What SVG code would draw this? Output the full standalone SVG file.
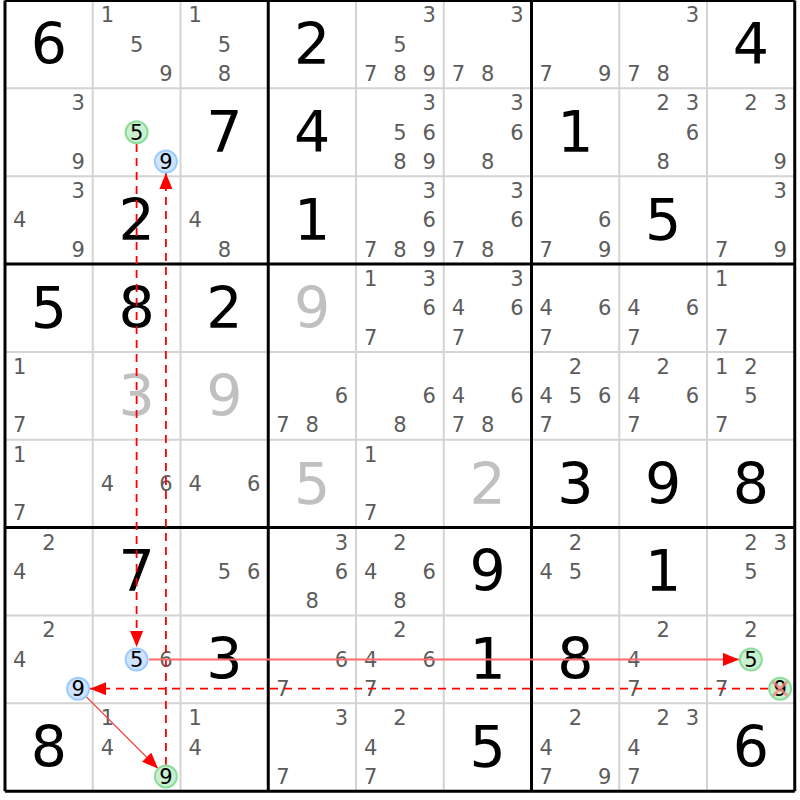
<svg xmlns="http://www.w3.org/2000/svg" width="800" height="800" viewBox="0 0 800 800">
<style>
.c{font-family:"DejaVu Sans",Verdana,sans-serif;font-size:21px;fill:#5c5c5c;text-anchor:middle}
.h{font-family:"DejaVu Sans",Verdana,sans-serif;font-size:21px;fill:#000;text-anchor:middle}
.b{font-family:"DejaVu Sans",Verdana,sans-serif;font-size:57px;fill:#000;text-anchor:middle}
.g{font-family:"DejaVu Sans",Verdana,sans-serif;font-size:57px;fill:#c0c0c0;text-anchor:middle}
.thin{stroke:#d4d4d4;stroke-width:2}
.thick{stroke:#000;stroke-width:3}
.cg{fill:#c9f0cf;stroke:#8ddc9c;stroke-width:2}
.cb{fill:#cfe5ff;stroke:#9ccbff;stroke-width:2}
.dash{stroke:#ff0000;stroke-width:1.8;stroke-dasharray:8,6;fill:none}
.sol{stroke:#ff6a6a;stroke-width:2;fill:none}
.dia{stroke:#f04a4a;stroke-width:1.3;fill:none}
</style>
<defs>
<marker id="ah" markerUnits="userSpaceOnUse" markerWidth="17" markerHeight="13" refX="16" refY="6.5" orient="auto"><path d="M0,0 L16,6.5 L0,13 z" fill="#ff0000"/></marker>
</defs>
<rect x="0" y="0" width="800" height="800" fill="#fff"/>
<g id="grid">
<path class="thin" d="M92.75,0.5V791.15M180.5,0.5V791.15M356,0.5V791.15M443.75,0.5V791.15M619.25,0.5V791.15M707,0.5V791.15M5,88.35H794.75M5,176.2H794.75M5,351.9H794.75M5,439.75H794.75M5,615.45H794.75M5,703.3H794.75"/>
<path class="thick" d="M5,0.5V791.15M268.25,0.5V791.15M531.5,0.5V791.15M794.75,0.5V791.15M5,0.5H794.75M5,264.05H794.75M5,527.6H794.75M5,791.15H794.75"/>
</g>
<g id="r0">
<g id="r0c0"><text class="b" x="48.9" y="64">6</text></g>
<g id="r0c1"><text class="c" x="107.4" y="22.4">1</text><text class="c" x="136.6" y="51.7">5</text><text class="c" x="165.9" y="81">9</text></g>
<g id="r0c2"><text class="c" x="195.1" y="22.4">1</text><text class="c" x="224.4" y="51.7">5</text><text class="c" x="224.4" y="81">8</text></g>
<g id="r0c3"><text class="b" x="312.1" y="64">2</text></g>
<g id="r0c4"><text class="c" x="429.1" y="22.4">3</text><text class="c" x="399.9" y="51.7">5</text><text class="c" x="370.6" y="81">7</text><text class="c" x="399.9" y="81">8</text><text class="c" x="429.1" y="81">9</text></g>
<g id="r0c5"><text class="c" x="516.9" y="22.4">3</text><text class="c" x="458.4" y="81">7</text><text class="c" x="487.6" y="81">8</text></g>
<g id="r0c6"><text class="c" x="546.1" y="81">7</text><text class="c" x="604.6" y="81">9</text></g>
<g id="r0c7"><text class="c" x="692.4" y="22.4">3</text><text class="c" x="633.9" y="81">7</text><text class="c" x="663.1" y="81">8</text></g>
<g id="r0c8"><text class="b" x="750.9" y="64">4</text></g>
</g>
<g id="r1">
<g id="r1c0"><text class="c" x="78.1" y="110.3">3</text><text class="c" x="78.1" y="168.9">9</text></g>
<g id="r1c2"><text class="b" x="224.4" y="152">7</text></g>
<g id="r1c3"><text class="b" x="312.1" y="152">4</text></g>
<g id="r1c4"><text class="c" x="429.1" y="110.3">3</text><text class="c" x="399.9" y="139.6">5</text><text class="c" x="429.1" y="139.6">6</text><text class="c" x="399.9" y="168.9">8</text><text class="c" x="429.1" y="168.9">9</text></g>
<g id="r1c5"><text class="c" x="516.9" y="110.3">3</text><text class="c" x="516.9" y="139.6">6</text><text class="c" x="487.6" y="168.9">8</text></g>
<g id="r1c6"><text class="b" x="575.4" y="152">1</text></g>
<g id="r1c7"><text class="c" x="663.1" y="110.3">2</text><text class="c" x="692.4" y="110.3">3</text><text class="c" x="692.4" y="139.6">6</text><text class="c" x="663.1" y="168.9">8</text></g>
<g id="r1c8"><text class="c" x="750.9" y="110.3">2</text><text class="c" x="780.1" y="110.3">3</text><text class="c" x="780.1" y="168.9">9</text></g>
</g>
<g id="r2">
<g id="r2c0"><text class="c" x="78.1" y="198.1">3</text><text class="c" x="19.6" y="227.4">4</text><text class="c" x="78.1" y="256.7">9</text></g>
<g id="r2c1"><text class="b" x="136.6" y="240">2</text></g>
<g id="r2c2"><text class="c" x="195.1" y="227.4">4</text><text class="c" x="224.4" y="256.7">8</text></g>
<g id="r2c3"><text class="b" x="312.1" y="240">1</text></g>
<g id="r2c4"><text class="c" x="429.1" y="198.1">3</text><text class="c" x="429.1" y="227.4">6</text><text class="c" x="370.6" y="256.7">7</text><text class="c" x="399.9" y="256.7">8</text><text class="c" x="429.1" y="256.7">9</text></g>
<g id="r2c5"><text class="c" x="516.9" y="198.1">3</text><text class="c" x="516.9" y="227.4">6</text><text class="c" x="458.4" y="256.7">7</text><text class="c" x="487.6" y="256.7">8</text></g>
<g id="r2c6"><text class="c" x="604.6" y="227.4">6</text><text class="c" x="546.1" y="256.7">7</text><text class="c" x="604.6" y="256.7">9</text></g>
<g id="r2c7"><text class="b" x="663.1" y="240">5</text></g>
<g id="r2c8"><text class="c" x="780.1" y="198.1">3</text><text class="c" x="721.6" y="256.7">7</text><text class="c" x="780.1" y="256.7">9</text></g>
</g>
<g id="r3">
<g id="r3c0"><text class="b" x="48.9" y="328">5</text></g>
<g id="r3c1"><text class="b" x="136.6" y="328">8</text></g>
<g id="r3c2"><text class="b" x="224.4" y="328">2</text></g>
<g id="r3c3"><text class="g" x="312.1" y="328">9</text></g>
<g id="r3c4"><text class="c" x="370.6" y="286">1</text><text class="c" x="429.1" y="286">3</text><text class="c" x="429.1" y="315.3">6</text><text class="c" x="370.6" y="344.6">7</text></g>
<g id="r3c5"><text class="c" x="516.9" y="286">3</text><text class="c" x="458.4" y="315.3">4</text><text class="c" x="516.9" y="315.3">6</text><text class="c" x="458.4" y="344.6">7</text></g>
<g id="r3c6"><text class="c" x="546.1" y="315.3">4</text><text class="c" x="604.6" y="315.3">6</text><text class="c" x="546.1" y="344.6">7</text></g>
<g id="r3c7"><text class="c" x="633.9" y="315.3">4</text><text class="c" x="692.4" y="315.3">6</text><text class="c" x="633.9" y="344.6">7</text></g>
<g id="r3c8"><text class="c" x="721.6" y="286">1</text><text class="c" x="721.6" y="344.6">7</text></g>
</g>
<g id="r4">
<g id="r4c0"><text class="c" x="19.6" y="373.8">1</text><text class="c" x="19.6" y="432.4">7</text></g>
<g id="r4c1"><text class="g" x="136.6" y="416">3</text></g>
<g id="r4c2"><text class="g" x="224.4" y="416">9</text></g>
<g id="r4c3"><text class="c" x="341.4" y="403.1">6</text><text class="c" x="282.9" y="432.4">7</text><text class="c" x="312.1" y="432.4">8</text></g>
<g id="r4c4"><text class="c" x="429.1" y="403.1">6</text><text class="c" x="399.9" y="432.4">8</text></g>
<g id="r4c5"><text class="c" x="458.4" y="403.1">4</text><text class="c" x="516.9" y="403.1">6</text><text class="c" x="458.4" y="432.4">7</text><text class="c" x="487.6" y="432.4">8</text></g>
<g id="r4c6"><text class="c" x="575.4" y="373.8">2</text><text class="c" x="546.1" y="403.1">4</text><text class="c" x="575.4" y="403.1">5</text><text class="c" x="604.6" y="403.1">6</text><text class="c" x="546.1" y="432.4">7</text></g>
<g id="r4c7"><text class="c" x="663.1" y="373.8">2</text><text class="c" x="633.9" y="403.1">4</text><text class="c" x="692.4" y="403.1">6</text><text class="c" x="633.9" y="432.4">7</text></g>
<g id="r4c8"><text class="c" x="721.6" y="373.8">1</text><text class="c" x="750.9" y="373.8">2</text><text class="c" x="750.9" y="403.1">5</text><text class="c" x="721.6" y="432.4">7</text></g>
</g>
<g id="r5">
<g id="r5c0"><text class="c" x="19.6" y="461.7">1</text><text class="c" x="19.6" y="520.3">7</text></g>
<g id="r5c1"><text class="c" x="107.4" y="491">4</text><text class="c" x="165.9" y="491">6</text></g>
<g id="r5c2"><text class="c" x="195.1" y="491">4</text><text class="c" x="253.6" y="491">6</text></g>
<g id="r5c3"><text class="g" x="312.1" y="504">5</text></g>
<g id="r5c4"><text class="c" x="370.6" y="461.7">1</text><text class="c" x="370.6" y="520.3">7</text></g>
<g id="r5c5"><text class="g" x="487.6" y="504">2</text></g>
<g id="r5c6"><text class="b" x="575.4" y="504">3</text></g>
<g id="r5c7"><text class="b" x="663.1" y="504">9</text></g>
<g id="r5c8"><text class="b" x="750.9" y="504">8</text></g>
</g>
<g id="r6">
<g id="r6c0"><text class="c" x="48.9" y="549.5">2</text><text class="c" x="19.6" y="578.8">4</text></g>
<g id="r6c1"><text class="b" x="136.6" y="591">7</text></g>
<g id="r6c2"><text class="c" x="224.4" y="578.8">5</text><text class="c" x="253.6" y="578.8">6</text></g>
<g id="r6c3"><text class="c" x="341.4" y="549.5">3</text><text class="c" x="341.4" y="578.8">6</text><text class="c" x="312.1" y="608.1">8</text></g>
<g id="r6c4"><text class="c" x="399.9" y="549.5">2</text><text class="c" x="370.6" y="578.8">4</text><text class="c" x="429.1" y="578.8">6</text><text class="c" x="399.9" y="608.1">8</text></g>
<g id="r6c5"><text class="b" x="487.6" y="591">9</text></g>
<g id="r6c6"><text class="c" x="575.4" y="549.5">2</text><text class="c" x="546.1" y="578.8">4</text><text class="c" x="575.4" y="578.8">5</text></g>
<g id="r6c7"><text class="b" x="663.1" y="591">1</text></g>
<g id="r6c8"><text class="c" x="750.9" y="549.5">2</text><text class="c" x="780.1" y="549.5">3</text><text class="c" x="750.9" y="578.8">5</text></g>
</g>
<g id="r7">
<g id="r7c0"><text class="c" x="48.9" y="637.4">2</text><text class="c" x="19.6" y="666.7">4</text></g>
<g id="r7c1"><text class="c" x="165.9" y="666.7">6</text></g>
<g id="r7c2"><text class="b" x="224.4" y="679">3</text></g>
<g id="r7c3"><text class="c" x="341.4" y="666.7">6</text><text class="c" x="282.9" y="696">7</text></g>
<g id="r7c4"><text class="c" x="399.9" y="637.4">2</text><text class="c" x="370.6" y="666.7">4</text><text class="c" x="429.1" y="666.7">6</text><text class="c" x="370.6" y="696">7</text></g>
<g id="r7c5"><text class="b" x="487.6" y="679">1</text></g>
<g id="r7c6"><text class="b" x="575.4" y="679">8</text></g>
<g id="r7c7"><text class="c" x="663.1" y="637.4">2</text><text class="c" x="633.9" y="666.7">4</text><text class="c" x="633.9" y="696">7</text></g>
<g id="r7c8"><text class="c" x="750.9" y="637.4">2</text><text class="c" x="721.6" y="696">7</text></g>
</g>
<g id="r8">
<g id="r8c0"><text class="b" x="48.9" y="767">8</text></g>
<g id="r8c1"><text class="c" x="107.4" y="725.2">1</text><text class="c" x="107.4" y="754.5">4</text></g>
<g id="r8c2"><text class="c" x="195.1" y="725.2">1</text><text class="c" x="195.1" y="754.5">4</text></g>
<g id="r8c3"><text class="c" x="341.4" y="725.2">3</text><text class="c" x="282.9" y="783.8">7</text></g>
<g id="r8c4"><text class="c" x="399.9" y="725.2">2</text><text class="c" x="370.6" y="754.5">4</text><text class="c" x="370.6" y="783.8">7</text></g>
<g id="r8c5"><text class="b" x="487.6" y="767">5</text></g>
<g id="r8c6"><text class="c" x="575.4" y="725.2">2</text><text class="c" x="546.1" y="754.5">4</text><text class="c" x="546.1" y="783.8">7</text><text class="c" x="604.6" y="783.8">9</text></g>
<g id="r8c7"><text class="c" x="663.1" y="725.2">2</text><text class="c" x="692.4" y="725.2">3</text><text class="c" x="633.9" y="754.5">4</text><text class="c" x="633.9" y="783.8">7</text></g>
<g id="r8c8"><text class="b" x="750.9" y="767">6</text></g>
</g>
<g id="connectors">
<line class="dash" x1="136.6" y1="144" x2="136.6" y2="647" marker-end="url(#ah)"/>
<line class="dash" x1="165.9" y1="765" x2="165.9" y2="173" marker-end="url(#ah)"/>
<line class="sol" x1="149" y1="659.4" x2="739" y2="659.4" marker-end="url(#ah)"/>
<line class="dash" x1="768" y1="688.7" x2="90" y2="688.7" marker-end="url(#ah)"/>
<line class="dia" x1="86" y1="696.5" x2="158" y2="768.5" marker-end="url(#ah)"/>
</g>
<g id="highlights">
<g id="h-r1c1-5"><circle class="cg" cx="136.6" cy="132.3" r="11"/><text class="h" x="136.6" y="139.9">5</text></g>
<g id="h-r1c1-9"><circle class="cb" cx="165.9" cy="161.6" r="11"/><text class="h" x="165.9" y="169.2">9</text></g>
<g id="h-r7c1-5"><circle class="cb" cx="136.6" cy="659.4" r="11"/><text class="h" x="136.6" y="667">5</text></g>
<g id="h-r7c0-9"><circle class="cb" cx="78.1" cy="688.7" r="11"/><text class="h" x="78.1" y="696.3">9</text></g>
<g id="h-r7c8-5"><circle class="cg" cx="750.9" cy="659.4" r="11"/><text class="h" x="750.9" y="667">5</text></g>
<g id="h-r7c8-9"><circle class="cg" cx="780.1" cy="688.7" r="11"/><text class="h" x="780.1" y="696.3">9</text><path d="M773,681.6L787.2,695.8M787.2,681.6L773,695.8" stroke="#ff7f7f" stroke-width="3" stroke-opacity="0.75"/></g>
<g id="h-r8c1-9"><circle class="cg" cx="165.9" cy="776.5" r="11"/><text class="h" x="165.9" y="784.1">9</text></g>
</g>
</svg>
